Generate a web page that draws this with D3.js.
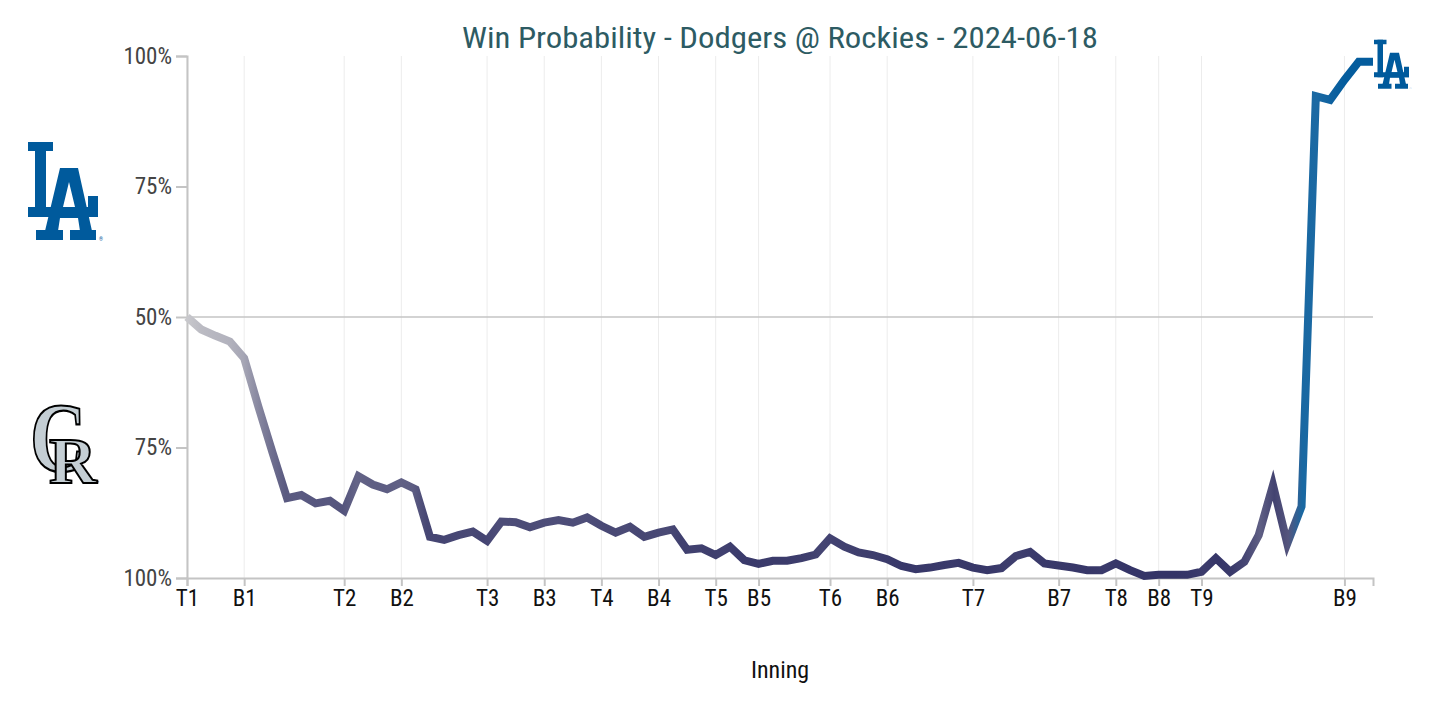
<!DOCTYPE html>
<html>
<head>
<meta charset="utf-8">
<script src="https://cdn.jsdelivr.net/npm/d3@7"></script>
<style>
  body { margin: 0; background: #fff; }
  text { font-family: "Roboto Condensed", Roboto, sans-serif; }
</style>
</head>
<body>
<svg id="chart" width="1446" height="706"></svg>
<script>
// Dodgers win probability (%) after each play, index = play number.
const winProb = [
  50, 47.6, 46.4, 45.3, 42.1, 32.8, 23.9, 15.3, 15.9, 14.3,
  14.8, 12.9, 19.5, 17.9, 17.0, 18.3, 17.0, 7.9, 7.3, 8.2,
  8.9, 7.1, 10.8, 10.7, 9.7, 10.6, 11.1, 10.6, 11.6, 10.0,
  8.7, 9.8, 7.9, 8.7, 9.3, 5.4, 5.7, 4.4, 6.0, 3.4,
  2.7, 3.3, 3.3, 3.8, 4.5, 7.6, 6.0, 4.9, 4.4, 3.6,
  2.3, 1.7, 2.0, 2.5, 2.9, 2.0, 1.5, 1.9, 4.2, 5.0,
  2.8, 2.4, 2.0, 1.5, 1.5, 2.8, 1.5, 0.4, 0.6, 0.6,
  0.6, 1.2, 3.8, 1.2, 3.1, 8.2, 17.8, 6.6, 13.7, 92.3,
  91.6, 95.4, 98.9, 98.9
];

// Half-inning labels and the play index where each starts.
const inningLabels = ["T1", "B1", "T2", "B2", "T3", "B3", "T4", "B4", "T5", "B5",
  "T6", "B6", "T7", "B7", "T8", "B8", "T9", "B9"];
const inningStarts = [0, 4, 11, 15, 21, 25, 29, 33, 37, 40, 45, 49, 55, 61, 65, 68, 71, 81];

const yTicks = [0, 0.25, 0.5, 0.75, 1];

const homeColor = "#333366";   // Rockies
const awayColor = "#005A9C";   // Dodgers
const neutralColor = "#c8c8cc";

let svg = d3.select("#chart");

let plot = { left: 187, right: 1373, top: 56, bottom: 578 };

let x = d3.scaleLinear()
  .domain([0, winProb.length - 1])
  .range([plot.left, plot.right]);

let y = d3.scaleLinear()
  .domain([0, 1])
  .range([plot.bottom, plot.top]);

// Title.
svg.append("text")
  .attr("x", (plot.left + plot.right) / 2)
  .attr("y", 48)
  .attr("text-anchor", "middle")
  .attr("fill", "#2d5b63")
  .style("font-size", "29px")
  .attr("textLength", 636)
  .attr("lengthAdjust", "spacingAndGlyphs")
  .text("Win Probability - Dodgers @ Rockies - 2024-06-18");

// Vertical grid lines at each half inning.
svg.append("g")
  .selectAll("line")
  .data(inningStarts)
  .join("line")
  .attr("x1", d => x(d))
  .attr("x2", d => x(d))
  .attr("y1", plot.top)
  .attr("y2", plot.bottom)
  .attr("stroke", "#ececec")
  .attr("stroke-width", 1);

// 50% line.
svg.append("line")
  .attr("x1", plot.left)
  .attr("x2", plot.right)
  .attr("y1", y(0.5))
  .attr("y2", y(0.5))
  .attr("stroke", "#c4c4c4")
  .attr("stroke-width", 1.5);

// Y axis.
let yAxis = svg.append("g")
  .attr("transform", "translate(" + plot.left + ",0)")
  .call(d3.axisLeft(y)
    .tickValues(yTicks)
    .tickSize(11)
    .tickPadding(4)
    .tickFormat(d => Math.round(Math.max(d, 1 - d) * 100) + "%"));
yAxis.select(".domain").attr("stroke", "#c4c4c4").attr("stroke-width", 2);
yAxis.selectAll(".tick line").attr("stroke", "#c4c4c4").attr("stroke-width", 2);
yAxis.selectAll(".tick text")
  .attr("fill", "#444")
  .style("font-size", "23px")
  .style("font-family", "\"Roboto Condensed\", Roboto, sans-serif");

// X axis.
let xAxis = svg.append("g")
  .attr("transform", "translate(0," + plot.bottom + ")")
  .call(d3.axisBottom(x)
    .tickValues(inningStarts)
    .tickSize(8)
    .tickPadding(4)
    .tickFormat((d, i) => inningLabels[i]));
xAxis.select(".domain").attr("stroke", "#c4c4c4").attr("stroke-width", 2);
xAxis.selectAll(".tick line").attr("stroke", "#c4c4c4").attr("stroke-width", 2);
xAxis.selectAll(".tick text")
  .attr("fill", "#111")
  .style("font-size", "23px")
  .style("font-family", "\"Roboto Condensed\", Roboto, sans-serif");

svg.append("text")
  .attr("x", (plot.left + plot.right) / 2)
  .attr("y", 678)
  .attr("text-anchor", "middle")
  .attr("fill", "#111")
  .style("font-size", "24px")
  .text("Inning");

// Gradient along the line: grey near 50%, team colour as it leans one way.
let colorFor = p => {
  let t = Math.min(1, Math.abs(p / 100 - 0.5) * 2);
  return d3.interpolateRgb(neutralColor, p >= 50 ? awayColor : homeColor)(Math.pow(t, 0.8));
};
let grad = svg.append("defs").append("linearGradient")
  .attr("id", "wpGradient")
  .attr("gradientUnits", "userSpaceOnUse")
  .attr("x1", x(0)).attr("x2", x(winProb.length - 1))
  .attr("y1", 0).attr("y2", 0);
grad.selectAll("stop")
  .data(winProb)
  .join("stop")
  .attr("offset", (d, i) => i / winProb.length)
  .attr("stop-color", d => colorFor(d));

let line = d3.line()
  .x((d, i) => x(i))
  .y(d => y(d / 100));

svg.append("path")
  .attr("d", line(winProb))
  .attr("fill", "none")
  .attr("stroke", "url(#wpGradient)")
  .attr("stroke-width", 8)
  .attr("stroke-linejoin", "miter")
  .attr("stroke-linecap", "butt");

// Logos.
function drawLALogo(g, tx, ty, s) {
  let logo = g.append("g")
    .attr("transform", "translate(" + tx + "," + ty + ") scale(" + s + ")")
    .attr("fill", awayColor);
  // L
  logo.append("rect").attr("x", 0).attr("y", 0).attr("width", 25).attr("height", 9);
  logo.append("rect").attr("x", 7).attr("y", 0).attr("width", 11).attr("height", 75);
  logo.append("rect").attr("x", 0).attr("y", 65).attr("width", 70).attr("height", 10);
  logo.append("rect").attr("x", 60).attr("y", 54).attr("width", 10).attr("height", 21);
  // A
  logo.append("path")
    .attr("fill-rule", "evenodd")
    .attr("d", "M32,26 L50,26 L64,89 L52,89 L50,76 L32,76 L30,89 L17,89 Z M41,40 L47,65 L35,65 Z");
  logo.append("rect").attr("x", 8).attr("y", 88).attr("width", 27).attr("height", 10);
  logo.append("rect").attr("x", 42).attr("y", 88).attr("width", 26).attr("height", 10);
  logo.append("text")
    .attr("x", 71).attr("y", 99)
    .style("font-size", "5px")
    .text("®");
}

function drawCRLogo(g, tx, ty) {
  let logo = g.append("g").attr("transform", "translate(" + tx + "," + ty + ")");
  logo.append("text")
    .attr("x", 0).attr("y", 68)
    .attr("transform", "scale(0.78,1)")
    .attr("fill", "#c4ced4")
    .attr("stroke", "#000")
    .attr("stroke-width", 2.2)
    .style("font-family", "\"Liberation Serif\", \"DejaVu Serif\", serif")
    .style("font-weight", "bold")
    .style("font-size", "100px")
    .text("C");
  logo.append("text")
    .attr("x", 19).attr("y", 80)
    .attr("fill", "#c4ced4")
    .attr("stroke", "#000")
    .attr("stroke-width", 2)
    .style("font-family", "\"Liberation Serif\", \"DejaVu Serif\", serif")
    .style("font-weight", "bold")
    .style("font-size", "66px")
    .text("R");
  logo.append("text")
    .attr("x", 66).attr("y", 82)
    .style("font-size", "6px")
    .text("™");
}

drawLALogo(svg, 28, 142, 1);
drawCRLogo(svg, 30, 403);
drawLALogo(svg, x(winProb.length - 1) + 1, y(winProb[winProb.length - 1] / 100) - 22, 0.5);
</script>
</body>
</html>
